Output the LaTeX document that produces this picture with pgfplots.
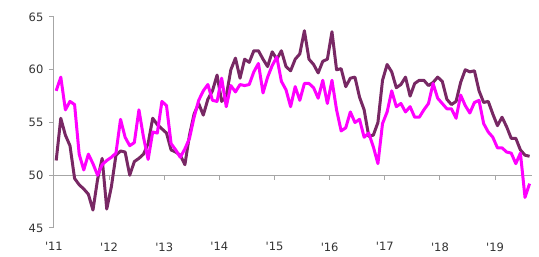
\documentclass[border=0pt]{standalone}
\usepackage{fontspec}
\setmainfont{DejaVu Sans}
\usepackage{pgfplots}
\usepackage{pgfplotstable}
\pgfplotsset{compat=1.18}
\definecolor{darkline}{HTML}{782864}
\definecolor{magline}{HTML}{FF00FF}
\definecolor{axgray}{HTML}{A6A6A6}
\definecolor{txt}{HTML}{333333}

\pgfplotstableread{
m dark mag
0 51.4 58.0
1 55.4 59.3
2 53.8 56.2
3 52.8 57.0
4 49.7 56.7
5 49.1 52.0
6 48.7 50.5
7 48.2 52.0
8 46.7 51.1
9 49.6 50.0
10 51.6 51.0
11 46.8 51.4
12 48.9 51.7
13 51.9 52.1
14 52.3 55.3
15 52.2 53.6
16 50.0 52.8
17 51.3 53.1
18 51.6 56.2
19 52.0 53.6
20 53.0 51.5
21 55.4 54.1
22 54.8 54.0
23 54.4 57.0
24 54.0 56.6
25 52.4 53.0
26 52.2 52.4
27 51.9 51.7
28 51.0 52.5
29 53.8 53.5
30 55.8 55.5
31 56.8 57.1
32 55.7 58.0
33 57.2 58.6
34 58.0 57.1
35 59.5 57.0
36 57.0 59.2
37 57.5 56.5
38 60.0 58.5
39 61.1 57.9
40 59.2 58.6
41 61.0 58.5
42 60.7 58.6
43 61.8 59.8
44 61.8 60.6
45 61.0 57.8
46 60.3 59.3
47 61.7 60.4
48 61.0 61.2
49 61.8 58.9
50 60.3 58.1
51 59.9 56.5
52 61.0 58.4
53 61.5 57.1
54 63.7 58.7
55 61.0 58.7
56 60.5 58.3
57 59.7 57.3
58 60.8 59.0
59 61.0 56.8
60 63.6 59.0
61 60.0 56.2
62 60.1 54.2
63 58.4 54.5
64 59.2 56.0
65 59.3 55.0
66 57.4 55.3
67 56.2 53.6
68 53.7 54.0
69 53.8 52.7
70 55.0 51.1
71 59.0 54.9
72 60.5 56.0
73 59.8 58.0
74 58.3 56.5
75 58.6 56.8
76 59.3 56.0
77 57.5 56.5
78 58.7 55.5
79 59.0 55.5
80 59.0 56.2
81 58.5 56.8
82 58.8 58.7
83 59.3 57.3
84 58.9 56.8
85 57.2 56.3
86 56.7 56.3
87 57.0 55.4
88 58.8 57.6
89 60.0 56.6
90 59.8 55.9
91 59.9 56.9
92 58.0 57.1
93 56.9 54.9
94 57.0 54.1
95 55.8 53.6
96 54.7 52.6
97 55.5 52.6
98 54.6 52.2
99 53.5 52.1
100 53.5 51.1
101 52.4 52.1
102 51.9 47.9
103 51.8 49.2
}\datatable

\begin{document}
\begin{tikzpicture}
\path[use as bounding box] (-53.9pt,-29pt) rectangle (485.1pt,228pt);
\begin{axis}[
  scale only axis,
  width=478pt, height=211pt,
  xmin=-0.5, xmax=103.5,
  ymin=45, ymax=65,
  axis y line*=left,
  axis x line*=bottom,
  x axis line style={draw=none},
  y axis line style={axgray, line width=1pt},
  ytick={45,50,55,60,65},
  xtick={-0.5,11.5,23.5,35.5,47.5,59.5,71.5,83.5,95.5},
  xticklabels={\textquotesingle11,\textquotesingle12,\textquotesingle13,\textquotesingle14,\textquotesingle15,\textquotesingle16,\textquotesingle17,\textquotesingle18,\textquotesingle19},
  tick align=outside,
  major tick length=5pt,
  ytick style={axgray, line width=1pt},
  xtick style={draw=none},
  tick label style={font=\fontsize{11.5pt}{13pt}\selectfont, text=txt},
  /pgf/number format/assume math mode=true,
  yticklabel style={xshift=-2pt},
  xticklabel style={yshift=-6pt},
  clip=false,
]
\draw[axgray, line width=1pt] (axis cs:-0.5,50) -- (axis cs:103.5,50);
\pgfplotsinvokeforeach{11.5,23.5,35.5,47.5,59.5,71.5,83.5,95.5}{
  \draw[axgray, line width=1pt] (axis cs:#1,50) -- ++(0pt,-5pt);
}
\addplot[darkline, line width=3pt, line join=round, no marks] table[x=m, y=dark] {\datatable};
\addplot[magline, line width=3pt, line join=round, no marks] table[x=m, y=mag] {\datatable};
\end{axis}
\end{tikzpicture}
\end{document}
